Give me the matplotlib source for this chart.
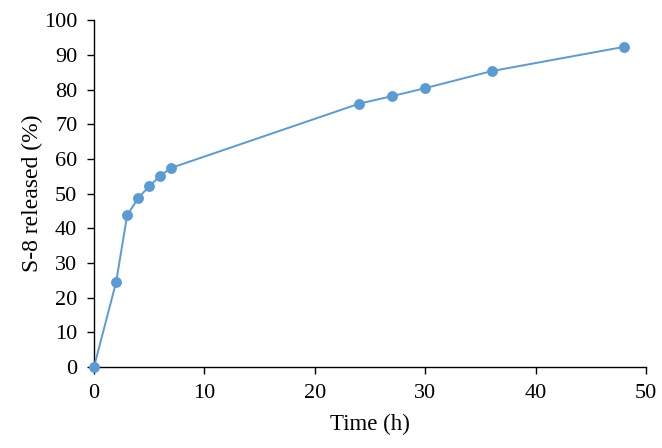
import matplotlib
matplotlib.use("Agg")
import matplotlib.pyplot as plt

time_h = [0, 2, 3, 4, 5, 6, 7, 24, 27, 30, 36, 48]
released = [0, 24.4, 43.7, 48.7, 52.1, 55.1, 57.4, 75.9, 78.1, 80.4, 85.3, 92.3]
x_ticks = [0, 10, 20, 30, 40, 50]
y_ticks = [0, 10, 20, 30, 40, 50, 60, 70, 80, 90, 100]

plt.rcParams['font.family'] = ['Liberation Serif', 'DejaVu Serif']
fig = plt.figure(figsize=(6.62, 4.48), dpi=100)
ax = fig.add_axes([0.142, 0.181, 0.834, 0.774])
color = '#5B9BD5'
ax.plot(time_h, released, color=color, lw=1.4, marker='o', ms=6.8, clip_on=False, zorder=3)
ax.set_xlim(0, 50)
ax.set_ylim(0, 100)
ax.set_xticks(x_ticks)
ax.set_yticks(y_ticks)
for s in ['top', 'right']:
    ax.spines[s].set_visible(False)
for s in ['left', 'bottom']:
    ax.spines[s].set_color('#000000')
    ax.spines[s].set_linewidth(1.0)
ax.tick_params(direction='out', length=5, width=1, labelsize=16, colors='black', pad=7)
ax.set_xlabel('Time (h)', fontsize=16.5, labelpad=8)
ax.set_ylabel('S-8 released (%)', fontsize=17, labelpad=1)
fig.savefig('out.png', dpi=100)
